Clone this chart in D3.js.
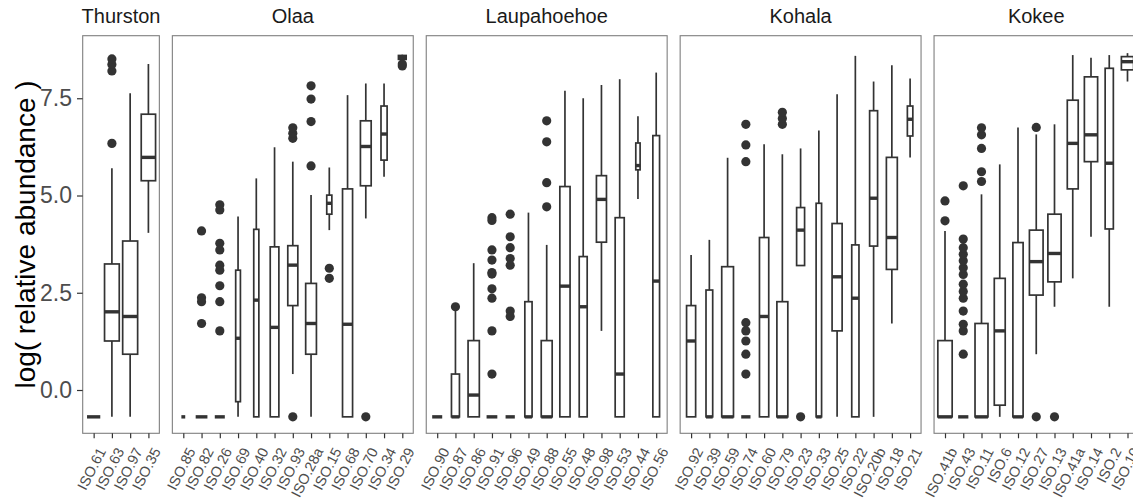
<!DOCTYPE html>
<html>
<head>
<meta charset="utf-8">
<script src="https://cdn.jsdelivr.net/npm/d3@7"></script>
<style>
	body { margin: 0; background: #fff; }
	svg { display: block; font-family: "Liberation Sans", Arial, sans-serif; }
	.strip { font-size: 20px; fill: #1a1a1a; text-anchor: middle; }
	.y-axis text { font-size: 23px; fill: #4d4d4d; }
	.x-axis text { font-size: 14.5px; fill: #4d4d4d; }
	.tick line { stroke: #333; stroke-width: 1.2; }
	.label { font-size: 28px; fill: #000; }
</style>
</head>
<body>
<svg width="1133" height="504"></svg>
<script>
// Five-number summaries are [lower whisker, q1, median, q3, upper whisker]
const LOD = -0.69;

const yTicks = [0, 2.5, 5, 7.5];

const thurstonIsolates = ['ISO.61', 'ISO.63', 'ISO.97', 'ISO.35'];
const thurstonStats = [
	[LOD, LOD, LOD, LOD, LOD],
	[LOD, 1.26, 2.01, 3.24, 5.70],
	[LOD, 0.92, 1.89, 3.83, 7.63],
	[4.04, 5.38, 5.98, 7.09, 8.38]
];
const thurstonOutliers = [[], [6.34, 8.20, 8.37, 8.51], [], []];
const thurstonN = [47, 58, 60, 55];

const olaaIsolates = ['ISO.85', 'ISO.82', 'ISO.26', 'ISO.69', 'ISO.40', 'ISO.32', 'ISO.93', 'ISO.28a', 'ISO.15', 'ISO.68', 'ISO.70', 'ISO.34', 'ISO.29'];
const olaaStats = [
	[LOD, LOD, LOD, LOD, LOD],
	[LOD, LOD, LOD, LOD, LOD],
	[LOD, LOD, LOD, LOD, LOD],
	[LOD, -0.30, 1.33, 3.08, 4.46],
	[LOD, LOD, 2.31, 4.13, 5.44],
	[LOD, LOD, 1.61, 3.68, 6.24],
	[0.41, 2.17, 3.21, 3.71, 5.87],
	[LOD, 0.92, 1.71, 2.74, 5.01],
	[4.11, 4.52, 4.80, 5.01, 5.72],
	[LOD, LOD, 1.69, 5.17, 7.58],
	[4.41, 5.25, 6.26, 6.92, 7.88],
	[5.48, 5.91, 6.58, 7.30, 7.88],
	[8.47, 8.50, 8.55, 8.60, 8.62]
];
const olaaOutliers = [
	[],
	[4.09, 2.37, 2.27, 1.71],
	[4.76, 4.63, 3.77, 3.60, 3.21, 3.08, 2.68, 2.27, 1.52],
	[], [], [],
	[LOD, 6.47, 6.60, 6.74],
	[5.76, 6.90, 7.48, 7.82],
	[3.13, 2.87],
	[],
	[LOD],
	[],
	[8.33, 8.38]
];
const olaaN = [4, 37, 27, 6, 7, 20, 27, 31, 7, 27, 31, 10, 16];

const laupIsolates = ['ISO.90', 'ISO.87', 'ISO.86', 'ISO.91', 'ISO.96', 'ISO.49', 'ISO.88', 'ISO.55', 'ISO.48', 'ISO.98', 'ISO.53', 'ISO.44', 'ISO.56'];
const laupStats = [
	[LOD, LOD, LOD, LOD, LOD],
	[LOD, LOD, LOD, 0.41, 2.05],
	[LOD, LOD, -0.13, 1.27, 3.26],
	[LOD, LOD, LOD, LOD, LOD],
	[LOD, LOD, LOD, LOD, LOD],
	[LOD, LOD, LOD, 2.27, 4.56],
	[LOD, LOD, LOD, 1.27, 3.73],
	[LOD, LOD, 2.67, 5.23, 7.69],
	[LOD, LOD, 2.14, 3.43, 7.50],
	[1.52, 3.80, 4.90, 5.51, 7.84],
	[LOD, LOD, 0.41, 4.43, 7.99],
	[4.91, 5.66, 5.77, 6.35, 7.04],
	[LOD, LOD, 2.80, 6.54, 8.16]
];
const laupOutliers = [
	[],
	[2.14],
	[],
	[4.43, 4.36, 3.60, 3.34, 3.02, 2.98, 2.60, 2.36, 1.52, 0.41],
	[4.52, 3.94, 3.66, 3.38, 3.21, 2.03, 1.89],
	[],
	[4.71, 5.33, 6.38, 6.92],
	[], [], [], [], [], []
];
const laupN = [27, 17, 34, 31, 23, 14, 32, 28, 17, 27, 22, 5, 12];

const kohalaIsolates = ['ISO.92', 'ISO.39', 'ISO.59', 'ISO.74', 'ISO.60', 'ISO.79', 'ISO.23', 'ISO.33', 'ISO.25', 'ISO.22', 'ISO.20b', 'ISO.18', 'ISO.21'];
const kohalaStats = [
	[LOD, LOD, 1.26, 2.17, 3.47],
	[LOD, LOD, LOD, 2.57, 3.86],
	[LOD, LOD, LOD, 3.17, 5.97],
	[LOD, LOD, LOD, LOD, LOD],
	[LOD, LOD, 1.89, 3.92, 6.32],
	[LOD, LOD, LOD, 2.27, 6.06],
	[3.20, 3.20, 4.11, 4.69, 6.21],
	[LOD, LOD, LOD, 4.80, 6.67],
	[LOD, 1.52, 2.91, 4.28, 7.60],
	[LOD, LOD, 2.36, 3.73, 8.59],
	[LOD, 3.70, 4.93, 7.18, 7.93],
	[1.71, 3.10, 3.92, 5.98, 8.35],
	[5.98, 6.53, 6.96, 7.30, 8.01]
];
const kohalaOutliers = [
	[], [], [],
	[1.73, 1.52, 1.26, 0.92, 0.41, 5.87, 6.30, 6.83],
	[],
	[6.83, 6.98, 7.14],
	[LOD],
	[], [], [], [], [], []
];
const kohalaN = [22, 12, 37, 23, 23, 32, 17, 8, 27, 14, 17, 32, 8];

const kokeeIsolates = ['ISO.41b', 'ISO.43', 'ISO.11', 'ISO.6', 'ISO.12', 'ISO.27', 'ISO.13', 'ISO.41a', 'ISO.14', 'ISO.2', 'ISO.10'];
const kokeeStats = [
	[LOD, LOD, LOD, 1.27, 4.09],
	[LOD, LOD, LOD, LOD, LOD],
	[LOD, LOD, LOD, 1.71, 5.03],
	[LOD, -0.39, 1.52, 2.87, 5.80],
	[LOD, LOD, LOD, 3.79, 6.75],
	[0.92, 2.44, 3.30, 4.11, 6.57],
	[2.14, 2.78, 3.51, 4.52, 6.83],
	[2.87, 5.17, 6.34, 7.45, 8.61],
	[3.94, 5.87, 6.56, 8.05, 8.54],
	[2.14, 4.14, 5.83, 8.27, 8.61],
	[7.93, 8.23, 8.44, 8.57, 8.66]
];
const kokeeOutliers = [
	[4.35, 4.86],
	[0.92, 1.52, 1.69, 2.03, 2.36, 2.53, 2.72, 2.97, 3.14, 3.32, 3.49, 3.66, 3.88, 5.25],
	[5.36, 5.61, 6.21, 6.56, 6.74],
	[], [],
	[6.75, LOD],
	[LOD],
	[], [], [], []
];
const kokeeN = [55, 28, 45, 32, 28, 50, 47, 32, 47, 18, 40];

const facets = [
	{ name: 'Thurston', cats: thurstonIsolates, stats: thurstonStats, outliers: thurstonOutliers, n: thurstonN },
	{ name: 'Olaa', cats: olaaIsolates, stats: olaaStats, outliers: olaaOutliers, n: olaaN },
	{ name: 'Laupahoehoe', cats: laupIsolates, stats: laupStats, outliers: laupOutliers, n: laupN },
	{ name: 'Kohala', cats: kohalaIsolates, stats: kohalaStats, outliers: kohalaOutliers, n: kohalaN },
	{ name: 'Kokee', cats: kokeeIsolates, stats: kokeeStats, outliers: kokeeOutliers, n: kokeeN }
];

let svg = d3.select('svg');
let panelTop = 35.7, panelBottom = 433.3;
let left = 82.7, gap = 13, step = 18.25, pad = 0.6;
let boxColor = '#333333';

let yScale = d3.scaleLinear().domain([-1.113, 9.108]).range([panelBottom, panelTop]);
let maxN = d3.max(facets, function(f) { return d3.max(f.n); });
let widthScale = d3.scaleSqrt().domain([0, maxN]).range([0, 0.82 * step]);

let x0 = left;
facets.forEach(function(f) {
	let w = step * (f.cats.length - 1 + 2 * pad);
	f.x = d3.scalePoint().domain(f.cats).range([x0, x0 + w]).padding(pad);
	f.left = x0;
	f.width = w;
	x0 += w + gap;
});

facets.forEach(function(f) {
	let g = svg.append('g').attr('class', 'panel');

	// boxes
	let rows = f.cats.map(function(c, i) {
		return { cat: c, s: f.stats[i], out: f.outliers[i], n: f.n[i] };
	});
	let box = g.selectAll('g.box').data(rows).enter().append('g').attr('class', 'box');

	box.append('line')
		.attr('x1', function(d) { return f.x(d.cat); })
		.attr('x2', function(d) { return f.x(d.cat); })
		.attr('y1', function(d) { return yScale(d.s[0]); })
		.attr('y2', function(d) { return yScale(d.s[1]); })
		.attr('stroke', boxColor).attr('stroke-width', 1.7);
	box.append('line')
		.attr('x1', function(d) { return f.x(d.cat); })
		.attr('x2', function(d) { return f.x(d.cat); })
		.attr('y1', function(d) { return yScale(d.s[3]); })
		.attr('y2', function(d) { return yScale(d.s[4]); })
		.attr('stroke', boxColor).attr('stroke-width', 1.7);

	box.append('rect')
		.attr('x', function(d) { return f.x(d.cat) - widthScale(d.n) / 2; })
		.attr('width', function(d) { return widthScale(d.n); })
		.attr('y', function(d) { return yScale(d.s[3]); })
		.attr('height', function(d) { return yScale(d.s[1]) - yScale(d.s[3]); })
		.attr('fill', '#fff').attr('stroke', boxColor).attr('stroke-width', 1.7);

	box.append('line')
		.attr('x1', function(d) { return f.x(d.cat) - widthScale(d.n) / 2; })
		.attr('x2', function(d) { return f.x(d.cat) + widthScale(d.n) / 2; })
		.attr('y1', function(d) { return yScale(d.s[2]); })
		.attr('y2', function(d) { return yScale(d.s[2]); })
		.attr('stroke', boxColor).attr('stroke-width', 3.4);

	box.selectAll('circle').data(function(d) {
		return d.out.map(function(v) { return { cat: d.cat, v: v }; });
	}).enter().append('circle')
		.attr('cx', function(d) { return f.x(d.cat); })
		.attr('cy', function(d) { return yScale(d.v); })
		.attr('r', 4.6)
		.attr('fill', boxColor);

	// panel border
	g.append('rect')
		.attr('x', f.left).attr('y', panelTop)
		.attr('width', f.width).attr('height', panelBottom - panelTop)
		.attr('fill', 'none').attr('stroke', '#7f7f7f').attr('stroke-width', 1.1);

	// strip title
	g.append('text').attr('class', 'strip')
		.attr('x', f.left + f.width / 2).attr('y', 23)
		.text(f.name);

	// x axis
	let ax = g.append('g').attr('class', 'x-axis')
		.attr('transform', 'translate(0,' + panelBottom + ')')
		.call(d3.axisBottom(f.x).tickSize(5).tickSizeOuter(0));
	ax.select('.domain').remove();
	ax.selectAll('text')
		.attr('x', 0).attr('y', 0).attr('dy', '0.71em')
		.attr('transform', 'translate(3,13) rotate(-63)')
		.style('text-anchor', 'end');
});

// y axis
let yAx = svg.append('g').attr('class', 'y-axis')
	.attr('transform', 'translate(' + left + ',0)')
	.call(d3.axisLeft(yScale).tickValues(yTicks).tickFormat(d3.format('.1f')).tickSize(5.7).tickPadding(5));
yAx.select('.domain').remove();

// y label
svg.append('text').attr('class', 'label')
	.attr('transform', 'translate(35,' + ((panelTop + panelBottom) / 2) + ') rotate(-90)')
	.attr('text-anchor', 'middle')
	.text('log( relative abundance )');
</script>
</body>
</html>
